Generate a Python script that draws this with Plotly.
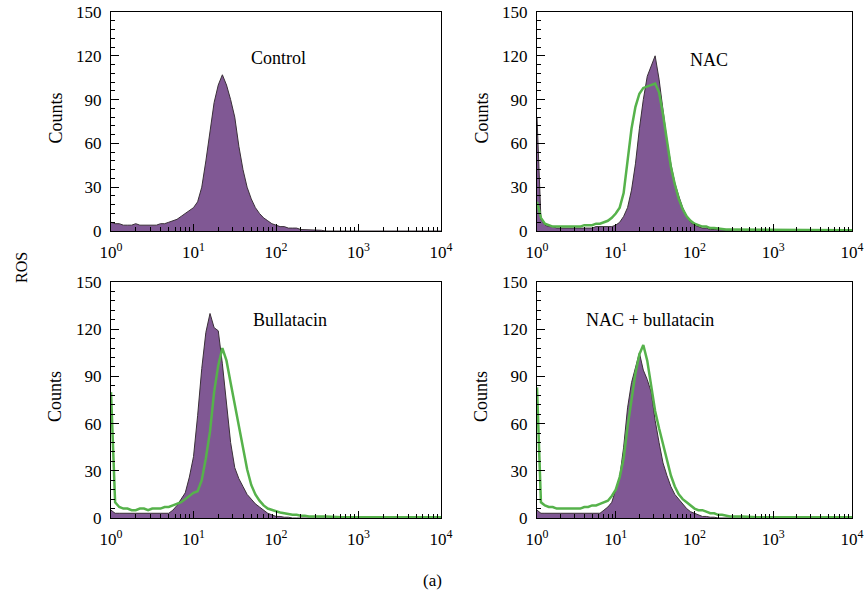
import plotly.graph_objects as go

# Flow cytometry ROS histograms (DCF fluorescence, log scale)

# channel positions, log10 of fluorescence
log_fl = [0.00, 0.05, 0.10, 0.15, 0.20, 0.25, 0.30, 0.35, 0.40, 0.45,
          0.50, 0.55, 0.60, 0.65, 0.70, 0.75, 0.80, 0.85, 0.90, 0.95,
          1.00, 1.05, 1.10, 1.15, 1.20, 1.25, 1.30, 1.35, 1.40, 1.45,
          1.50, 1.55, 1.60, 1.65, 1.70, 1.75, 1.80, 1.85, 1.90, 1.95,
          2.00, 2.05, 2.10, 2.15, 2.20, 2.25, 2.30, 2.35, 2.40, 2.45,
          2.50, 2.55, 2.60, 2.80, 3.00, 3.50, 4.00]

control = [6, 5, 5, 4, 4, 4, 5, 4, 4, 4,
           4, 4, 5, 5, 6, 7, 8, 10, 12, 14,
           16, 20, 30, 48, 70, 88, 100, 107, 100, 90,
           78, 58, 42, 30, 22, 16, 12, 9, 7, 5,
           4, 3, 3, 2, 2, 2, 1, 1, 1, 1,
           0.5, 0.5, 0, 0, 0, 0, 0]

nac_filled = [78, 8, 4, 3, 3, 2, 2, 2, 2, 2,
              2, 2, 2, 2, 2, 3, 3, 3, 3, 3,
              4, 6, 10, 16, 28, 46, 70, 90, 106, 113,
              120, 104, 82, 62, 46, 33, 24, 16, 10, 6,
              4, 3, 2, 2, 1, 1, 1, 0.5, 0.5, 0.5,
              0, 0, 0, 0, 0, 0, 0]
nac_line = [20, 9, 5, 4, 3, 3, 3, 3, 3, 3,
            3, 3, 4, 4, 4, 5, 5, 6, 7, 9,
            12, 16, 26, 48, 70, 85, 94, 98, 99, 100,
            101, 95, 80, 62, 44, 32, 22, 15, 10, 7,
            5, 4, 3, 3, 2, 2, 1.5, 1, 1, 1,
            1, 0.5, 0.5, 0.5, 0.5, 0.5, 0.5]

bull_filled = [5, 3, 3, 3, 3, 3, 3, 3, 3, 3,
               3, 3, 3, 3, 3, 5, 8, 12, 16, 26,
               39, 65, 95, 118, 130, 121, 119, 98, 72, 48,
               32, 25, 20, 15, 12, 9, 7, 5, 3, 2,
               1, 1, 0.5, 0.5, 0, 0, 0, 0, 0, 0,
               0, 0, 0, 0, 0, 0, 0]
bull_line = [80, 10, 7, 6, 6, 5, 5, 6, 6, 5,
             6, 6, 6, 7, 7, 8, 9, 10, 12, 14,
             16, 17, 24, 38, 55, 80, 97, 108, 100, 86,
             72, 59, 45, 31, 21, 15, 11, 8, 6, 5,
             4, 3.5, 3, 2.5, 2, 2, 1.5, 1.5, 1, 1,
             1, 1, 1, 0.5, 0.5, 0.5, 0.5]

nacbull_filled = [5, 3, 3, 3, 3, 3, 3, 3, 3, 3,
                  3, 3, 3, 3, 3, 3, 3, 5, 7, 10,
                  18, 26, 45, 70, 86, 95, 105, 94, 88, 80,
                  62, 48, 35, 27, 20, 15, 12, 9, 6, 4,
                  3, 2, 1, 1, 0.5, 0.5, 0, 0, 0, 0,
                  0, 0, 0, 0, 0, 0, 0]
nacbull_line = [83, 10, 8, 7, 7, 6, 6, 6, 6, 6,
                6, 6, 7, 7, 8, 8, 9, 10, 11, 14,
                18, 26, 38, 58, 76, 92, 104, 110, 100, 85,
                68, 57, 46, 37, 27, 20, 15, 12, 10, 8,
                6, 5, 5, 4, 3, 3, 2, 2, 1.5, 1,
                1, 1, 1, 0.5, 0.5, 0.5, 0.5]

panel_names = ['Control', 'NAC', 'Bullatacin', 'NAC + bullatacin']
filled_series = [control, nac_filled, bull_filled, nacbull_filled]
line_series = [None, nac_line, bull_line, nacbull_line]

y_ticks = [0, 30, 60, 90, 120, 150]
x_ticks = [1, 10, 100, 1000, 10000]
x_tick_text = ['10<sup>0</sup>', '10<sup>1</sup>', '10<sup>2</sup>', '10<sup>3</sup>', '10<sup>4</sup>']

PURPLE = '#805894'
EDGE = '#3a3038'
GREEN = '#56b24b'
FONT = 'Liberation Serif'

W, H = 866, 596
# panel frames in pixels: (left, right, top, bottom)
frames = [(111, 441, 12, 231), (537, 852, 12, 231),
          (111, 441, 282, 518), (537, 852, 282, 518)]
label_pos = [(278, 58), (709, 60), (290, 320), (650, 320)]

x_fl = [10 ** v for v in log_fl]
minor_vals = [m * 10 ** d for d in range(4) for m in range(2, 10)]

fig = go.Figure()
for i in range(4):
    ax = '' if i == 0 else str(i + 1)
    fig.add_trace(go.Scatter(
        x=x_fl, y=filled_series[i], mode='lines', fill='tozeroy',
        fillcolor=PURPLE, line=dict(color=EDGE, width=1),
        xaxis='x' + ax, yaxis='y' + ax, showlegend=False))
    if line_series[i] is not None:
        fig.add_trace(go.Scatter(
            x=x_fl, y=line_series[i], mode='lines',
            line=dict(color=GREEN, width=2.5),
            xaxis='x' + ax, yaxis='y' + ax, showlegend=False))

    l, r, t, b = frames[i]
    common = dict(showline=True, mirror=True, linecolor='black', linewidth=1,
                  showgrid=False, zeroline=False, ticks='inside', tickcolor='black',
                  automargin=False,
                  tickfont=dict(family=FONT, size=17, color='black'))
    fig.update_layout(**{
        'xaxis' + ax: dict(common, type='log', range=[0, 4], domain=[l / W, r / W],
                           anchor='y' + ax, tickmode='array', tickvals=x_ticks,
                           ticktext=x_tick_text, ticklen=7, ticklabelstandoff=6,
                           minor=dict(tickmode='array', tickvals=minor_vals,
                                      ticks='inside', ticklen=4, tickcolor='black')),
        'yaxis' + ax: dict(common, range=[0, 150], domain=[1 - b / H, 1 - t / H],
                           anchor='x' + ax, tickmode='array', tickvals=y_ticks,
                           ticklen=8, ticklabelstandoff=5,
                           minor=dict(dtick=6, ticks='inside', ticklen=4, tickcolor='black')),
    })


def note(text, px, py, size, angle=0):
    return dict(text=text, x=px / W, y=1 - py / H, xref='paper', yref='paper',
                xanchor='center', yanchor='middle', showarrow=False, textangle=angle,
                font=dict(family=FONT, size=size, color='black'))


annotations = []
for i in range(4):
    px, py = label_pos[i]
    annotations.append(note(panel_names[i], px, py, 18))
    l, r, t, b = frames[i]
    annotations.append(note('Counts', l - 56, (t + b) / 2 - 3, 18, -90))
annotations.append(note('ROS', 21, 268, 16, -90))
annotations.append(note('(a)', 432, 580, 17))

fig.update_layout(width=W, height=H, margin=dict(l=0, r=0, t=0, b=0),
                  paper_bgcolor='white', plot_bgcolor='white',
                  annotations=annotations)

# drop the browser's default body margin so the figure fills the window
fig.write_html("out.html", config={'displayModeBar': False},
               post_script="document.body.style.margin = '0px';")
